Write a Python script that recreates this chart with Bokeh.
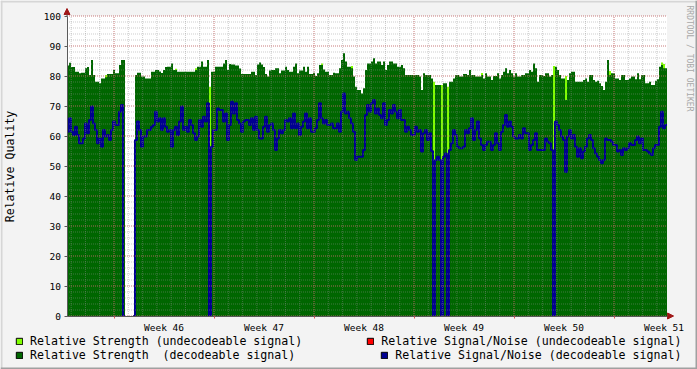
import math
import numpy as np
from bokeh.plotting import figure
from bokeh.models import (Range1d, FixedTicker, Arrow, NormalHead, Legend,
                          LegendItem, Label, LinearAxis, BoxAnnotation)
from bokeh.embed import file_html
from bokeh.resources import INLINE

nan = float("nan")

# ---- data: one sample every 3.36 hours (6 weeks shown) ----
STEP_H = 3.36
RANGE_H = 1008

week_labels = ["Week 46", "Week 47", "Week 48", "Week 49", "Week 50", "Week 51"]
week_label_hours = [163, 331, 499, 667, 835, 1003]
week_grid_hours = [79, 247, 415, 583, 751, 919]
day_grid_hours = [7 + 24 * k for k in range(42)]
y_major = list(range(0, 101, 10))
y_minor = list(range(0, 101, 2))

strength_dec = [
    83.5, 84.4, 83, 83, 81.4, 81.4, 80.9, 81.1, 81.1, 82.6,
    83, 80.3, 85.3, 80.3, 78.1, 78.1, 77.6, 79.2, 79.2, 79.6,
    80.7, 80.7, 80.7, 82, 80.9, 80.9, 83.7, 85.3, 85.3, nan,
    nan, nan, nan, nan, 80.3, 81.1, 81.1, 79.8, 79.8, 79.2,
    79.2, 79.2, 81.4, 81.4, 82, 82, 81.5, 81, 82, 83,
    83.1, 83.1, 84.2, 82, 82, 81.4, 81.4, 81.4, 81.4, 81.4,
    81.4, 81.4, 81.4, 81.4, 82, 83.1, 83.1, 84.8, 83.1, 83.1,
    85.3, nan, 81.4, 81.4, 83.1, 83.1, 83.1, 83.1, 84.2, 85.3,
    82, 84, 83.8, 83.8, 83.5, 83.5, 82.5, 80.7, 80.7, 80.7,
    80.7, 80.7, 81.4, 81.4, 80.3, 83.8, 84.5, 83.8, 83, 80.7,
    79.8, 81.8, 82, 82, 82.6, 82.6, 80.9, 81.8, 81.8, 83.1,
    82, 81.4, 81.4, 83.1, 84.2, 80.9, 81.8, 81.8, 83.1, 81.4,
    83.1, 80.7, 80.7, 81.1, 80, 80.9, 83.7, 83.7, 82.2, 81.4,
    81.4, 80.3, 80.3, 81.1, 80.9, 80.9, 82.6, 85.3, 87.6, 84.8,
    83.1, 83.1, 82.6, 79.8, 76.4, 75.3, 75.3, 74.2, 75.9, 82,
    84.2, 84.2, 84.8, 85.9, 84.2, 84.8, 84.8, 83.7, 84.8, 82,
    83.7, 84.8, 84.8, 84.2, 84.2, 83.1, 83.1, 83.7, 82.6, 80.3,
    80.3, 80.3, 80.3, 80.3, 80.3, 80.3, 79.8, 75.3, 80.9, 80.3,
    80.3, 80.3, 79.2, nan, 77, 77, 77, nan, 77.6, 77.6,
    nan, 78.1, 78.1, 79.2, 80.3, 80.3, 79.8, 79.8, 80.7, 80.7,
    80.3, 82, 80.3, 80.3, 79.8, 79.8, 79.8, 80.3, 79.2, 80.9,
    79.8, 79.8, 78.7, 80, 80, 80.9, 79.2, 80.3, 81.4, 82.6,
    80.9, 82, 80.9, 79.8, 80.9, 79.8, 79.8, 80.3, 80.3, 80.9,
    80.9, 82, 81.4, 84.2, 82.6, 78.1, 80.3, 80.3, 80, 80.9,
    80.9, 79.8, 80.3, nan, 83.1, 82, 80.3, 79.2, 79.2, 72,
    78.7, 80.9, 81.4, 81.4, 78.1, 78.1, 78.1, 78.1, 78.7, 79.2,
    78.1, 80.3, 80.3, 78.7, 78.1, 78.4, 77.6, 76.7, 75.3, 78.1,
    85.3, 80.3, 80.9, 80.9, 79.2, 79.2, 78.7, 80.3, 80.3, 78.7,
    78.7, 79.2, 79.8, 79.8, 78.9, 80.9, 78.9, 80.3, 80.3, 77.6,
    77.6, 78.1, 77, 77, 78.4, 78.9, 83.1, 83.7, 82.6, 82.6,
]

strength_undec = [nan] * 300
for idx, val in [(19, 80.3), (54, 82.4), (64, 82.6), (71, 76.4), (127, 84.2),
                 (142, 83.3), (183, 78.1), (187, 77), (190, 76.4), (207, 81),
                 (243, 83.3), (249, 80), (271, 81.7), (297, 84.5), (298, 84)]:
    strength_undec[idx] = val

snr_dec = [
    61.4, 65.9, 61.4, 60.3, 63.1, 60.3, 57.6, 57.6, 59.2, 64.2,
    60.9, 65.3, 69.8, 64.2, 62, 57.6, 59.2, 56.4, 62, 59.8,
    60.3, 58.7, 62, 64.8, 63.7, 63.7, 68.1, 70.3, 0, nan,
    nan, nan, nan, 0, 58.7, 64.8, 62, 56.4, 59.8, 59.8,
    62, 62, 63.1, 63.7, 68.1, 64.8, 65.9, 62, 65.9, 63.1,
    61.4, 62, 56.4, 62, 63.1, 60.3, 64.8, 69.8, 62, 63.1,
    61.4, 65.3, 63.7, 60.9, 58.7, 59.8, 65.3, 63.1, 66.4, 64.8,
    70.9, 0, 56.4, 62, 62, 69.2, 68.7, 68.7, 64.8, 67.5,
    58.7, 63.7, 71.4, 67.5, 70.9, 65.3, 64.2, 61.4, 64.8, 65.3,
    65.3, 63.7, 65.9, 62, 66.4, 62, 59.2, 59.2, 63.1, 66.4,
    61.4, 63.7, 64.2, 62, 55.3, 59.2, 62, 60.9, 62, 65.3,
    64.8, 65.9, 62.6, 67.5, 62.6, 64.2, 60.3, 63.1, 64.8, 67.5,
    62.6, 65.9, 61.4, 61.4, 62.6, 65.3, 70.9, 65.9, 64.2, 65.3,
    63.7, 63.7, 64.2, 62.6, 62.6, 64.2, 61.4, 68.1, 74.2, 67.5,
    68.1, 65.9, 64.2, 61.4, 52, 53.1, 53.1, 53.1, 55.3, 67,
    70.3, 68.1, 70.9, 72, 67.5, 69.2, 67, 65.9, 70.9, 63.7,
    65.3, 68.7, 67.5, 70.3, 68.1, 65.9, 68.7, 65.3, 65.3, 61.4,
    63.1, 62, 60.3, 60.3, 63.1, 61.4, 62, 54.8, 60.9, 62,
    58.7, 60.9, 55, 0, 52, 53.1, 52, 0, 53.1, 54.2,
    0, 55.3, 57.6, 62, 60.3, 56.4, 55.9, 55.9, 56.4, 62,
    60.9, 62.6, 65.9, 58.7, 62, 64.8, 59.2, 57, 55.3, 57,
    58.1, 58.1, 55.3, 57, 60.9, 57.6, 55.3, 61.4, 63.7, 67,
    63.1, 64.8, 63.1, 59.8, 59.2, 59.2, 60.3, 59.2, 62.6, 60.9,
    60.9, 55.3, 57, 58.7, 60.9, 55.3, 55.3, 55.3, 55.3, 59.2,
    58.1, 57.6, 55.3, 0, 64.8, 63.7, 62, 59.8, 58.7, 48,
    59.8, 62, 59.2, 60.3, 56.4, 53.1, 55.9, 52.6, 54.8, 56.4,
    59.2, 60.3, 58.7, 55.9, 54.2, 53.1, 52, 50.9, 52, 59.2,
    58.7, 58.7, 58.1, 57, 57, 54.8, 55.3, 53.7, 55.9, 55.3,
    55.9, 57.6, 57, 57, 58.7, 59.8, 57.6, 59.2, 55.3, 55.3,
    54.8, 54.2, 53.7, 55.9, 57, 57, 63.1, 68.1, 62.6, 63.7,
]

snr_undec = [nan] * 300  # no undecodeable S/N samples in this period

# ---- styles ----
BACK = "#F3F3F3"
SHADE_A = "#D6D6D6"
SHADE_B = "#A0A0A0"
DARK_GREEN = "#006600"
LIGHT_GREEN = "#80FF00"
RED = "#FF0000"
BLUE = "#000090"
AXIS = "#5A5A5A"
ARROW = "#A01818"
MGRID = "#DE5050"
GRID = "#8F8F8F"
MONO = "DejaVu Sans Mono"

W, H = 697, 369
X0_PX, PX_PER_H = 66.5, 1 / 1.68     # hour 0 sits at canvas x=66.5
Y0_PX, PX_PER_V = 315.5, 3.0         # value 0 sits at canvas y=315.5


def hx(px):
    return (px - X0_PX) / PX_PER_H


def vy(py):
    return (Y0_PX - py) / PX_PER_V


t = np.arange(len(strength_dec)) * STEP_H

p = figure(width=W, height=H, output_backend="svg", toolbar_location=None,
           x_range=Range1d(hx(0), hx(W)), y_range=Range1d(vy(H), vy(0)),
           x_axis_location=None, y_axis_location=None,
           min_border=0, background_fill_color=BACK, border_fill_color=BACK,
           outline_line_color=None,
           styles={"position": "absolute", "left": "0px", "top": "0px"})
p.xgrid.visible = False
p.ygrid.visible = False

# white canvas of the graph
p.add_layout(BoxAnnotation(left=0, right=RANGE_H, bottom=0, top=100,
                           fill_color="white", fill_alpha=1, line_color=None,
                           level="underlay"))
# image border shading
for l, r, b, tp, c in [(0, W, 0, 2, SHADE_A), (0, 2, 0, H, SHADE_A),
                       (0, W, H - 2, H, SHADE_B), (W - 2, W, 0, H, SHADE_B)]:
    p.add_layout(BoxAnnotation(left=hx(l), right=hx(r), top=vy(b), bottom=vy(tp),
                               fill_color=c, fill_alpha=1, line_color=None,
                               level="underlay"))


def step_polygons(values):
    xs_all, ys_all, run = [], [], []
    for i, v in enumerate(list(values) + [nan]):
        if v == v:
            run.append(i)
        elif run:
            xs = [t[run[0]]]
            ys = [0.0]
            for j in run:
                xs += [t[j], t[j] + STEP_H]
                ys += [values[j], values[j]]
            xs.append(t[run[-1]] + STEP_H)
            ys.append(0.0)
            xs_all.append(xs)
            ys_all.append(ys)
            run = []
    return xs_all, ys_all


xs_u, ys_u = step_polygons(strength_undec)
p.patches(xs_u, ys_u, fill_color=LIGHT_GREEN, line_color=None)
xs_d, ys_d = step_polygons(strength_dec)
p.patches(xs_d, ys_d, fill_color=DARK_GREEN, line_color=None)

step_x = np.column_stack([t, t + STEP_H]).ravel()
p.line(step_x, np.repeat(np.array(snr_undec, dtype=float), 2), color=RED, line_width=2)
p.line(step_x, np.repeat(np.array(snr_dec, dtype=float), 2), color=BLUE, line_width=2)

# ---- grid (drawn over the data) ----
p.segment(x0=day_grid_hours, y0=0, x1=day_grid_hours, y1=100,
          line_color=GRID, line_alpha=0.45, line_dash="1 1", line_width=1)
p.segment(x0=0, y0=y_minor, x1=RANGE_H, y1=y_minor,
          line_color=GRID, line_alpha=0.45, line_dash="1 1", line_width=1)
p.segment(x0=week_grid_hours, y0=0, x1=week_grid_hours, y1=100,
          line_color=MGRID, line_alpha=0.55, line_dash="1 1", line_width=1)
p.segment(x0=0, y0=y_major, x1=RANGE_H, y1=y_major,
          line_color=MGRID, line_alpha=0.55, line_dash="1 1", line_width=1)

# ---- axes ----
xaxis = LinearAxis(fixed_location=0, bounds=(0, RANGE_H),
                   ticker=FixedTicker(ticks=week_label_hours, minor_ticks=week_grid_hours))
xaxis.major_label_overrides = {h: lab for h, lab in zip(week_label_hours, week_labels)}
xaxis.major_tick_out = 0
xaxis.major_tick_in = 0
xaxis.minor_tick_out = 2
xaxis.minor_tick_in = 0
xaxis.minor_tick_line_color = MGRID
xaxis.major_label_standoff = 4
p.add_layout(xaxis, "below")

yaxis = LinearAxis(fixed_location=0, bounds=(0, 100),
                   ticker=FixedTicker(ticks=y_major))
yaxis.major_tick_out = 3
yaxis.major_tick_in = 0
yaxis.minor_tick_out = 0
yaxis.minor_tick_in = 0
yaxis.major_label_standoff = 3
yaxis.axis_label = "Relative Quality"
yaxis.axis_label_standoff = 24
yaxis.axis_label_text_font = MONO
yaxis.axis_label_text_font_size = "11.6px"
yaxis.axis_label_text_font_style = "normal"
yaxis.axis_label_text_color = "black"
p.add_layout(yaxis, "left")

for ax in (xaxis, yaxis):
    ax.axis_line_color = AXIS
    ax.major_tick_line_color = AXIS
    ax.major_label_text_font = MONO
    ax.major_label_text_font_size = "9.5px"
    ax.major_label_text_color = "black"

# axis arrows
p.add_layout(Arrow(end=NormalHead(size=6, fill_color=ARROW, line_color=ARROW),
                   x_start=0, y_start=100, x_end=0, y_end=102.5,
                   line_color=AXIS, line_width=1))
p.add_layout(Arrow(end=NormalHead(size=6, fill_color=ARROW, line_color=ARROW),
                   x_start=RANGE_H, y_start=0, x_end=RANGE_H + 11, y_end=0,
                   line_color=AXIS, line_width=1))

# watermark on the right, reading downwards
p.add_layout(Label(x=hx(688.5), y=vy(5), text="RRDTOOL / TOBI OETIKER",
                   angle=-math.pi / 2, text_font=MONO, text_font_size="8px",
                   text_color="#A8A8A8", text_align="left",
                   text_baseline="middle"))

# ---- legend (swatches are NaN-only renderers: they show in the legend only) ----
def swatch(color):
    return p.quad(left=[nan], right=[nan], top=[nan], bottom=[nan],
                  fill_color=color, line_color="black", line_width=1)


sw_su = swatch(LIGHT_GREEN)
sw_sd = swatch(DARK_GREEN)
sw_nu = swatch(RED)
sw_nd = swatch(BLUE)


def legend_row(items, loc, spacing):
    return Legend(items=items, location=loc, orientation="horizontal",
                  glyph_width=8, glyph_height=8, label_standoff=7,
                  label_height=14, spacing=spacing, padding=0, margin=0,
                  border_line_color=None, background_fill_alpha=0,
                  label_text_font=MONO, label_text_font_size="11.6px",
                  label_text_color="black")


p.add_layout(legend_row([
    LegendItem(label="Relative Strength (undecodeable signal)", renderers=[sw_su]),
    LegendItem(label="Relative Signal/Noise (undecodeable signal)", renderers=[sw_nu]),
], (15, H - 348), 64))
p.add_layout(legend_row([
    LegendItem(label="Relative Strength  (decodeable signal)", renderers=[sw_sd]),
    LegendItem(label="Relative Signal/Noise (decodeable signal)", renderers=[sw_nd]),
], (15, H - 362), 85))

open("out.html", "w").write(file_html(p, INLINE))
